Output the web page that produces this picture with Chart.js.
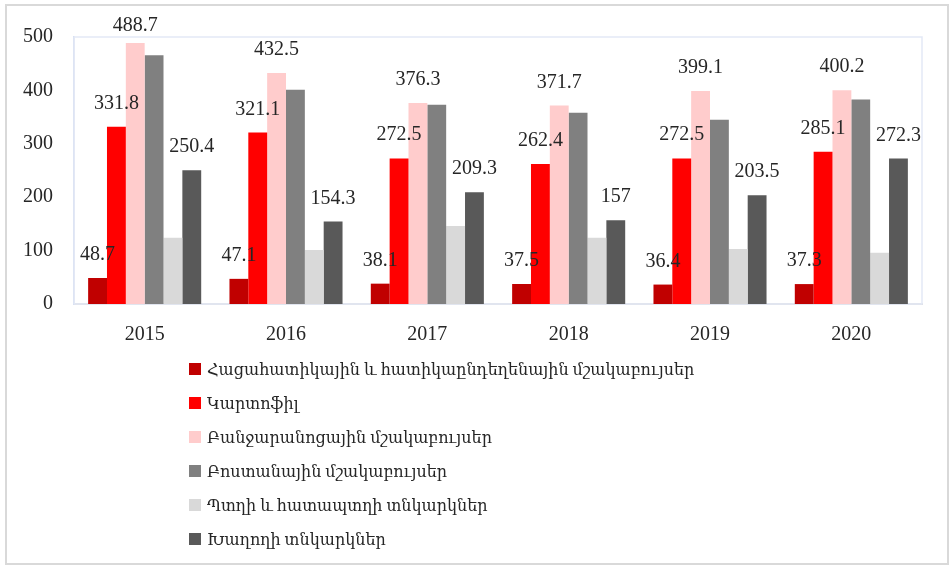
<!DOCTYPE html>
<html><head><meta charset="utf-8">
<script src="https://cdn.jsdelivr.net/npm/chart.js@4"></script>
<style>
html,body{margin:0;padding:0;background:#fff;}
#wrap{position:relative;width:950px;height:567px;overflow:hidden;background:#fff;}
#c{position:absolute;left:0;top:0;}
#frame{position:absolute;left:5px;top:4px;width:944px;height:561px;border:2px solid #d9d9d9;box-sizing:border-box;pointer-events:none;}
#legend{position:absolute;left:189px;top:352px;font-family:"Liberation Serif","DejaVu Serif",serif;font-size:16px;color:#262626;}
.row{height:34px;display:flex;align-items:center;white-space:nowrap;}
.sw{width:12px;height:12px;margin-right:6px;flex:none;}
</style></head>
<body>
<div id="wrap"><canvas id="c" width="950" height="567"></canvas><div id="frame"></div><div id="legend"></div></div>
<script>
const years = ['2015','2016','2017','2018','2019','2020'];
const seriesNames = [
  'Հացահատիկային և հատիկաընդեղենային մշակաբույսեր',
  'Կարտոֆիլ',
  'Բանջարանոցային մշակաբույսեր',
  'Բոստանային մշակաբույսեր',
  'Պտղի և հատապտղի տնկարկներ',
  'Խաղողի տնկարկներ'
];
const grainLegumes = [48.7, 47.1, 38.1, 37.5, 36.4, 37.3];
const potato = [331.8, 321.1, 272.5, 262.4, 272.5, 285.1];
const vegetables = [488.7, 432.5, 376.3, 371.7, 399.1, 400.2];
const melons = [466, 401, 373, 358, 345, 383];
const fruitBerry = [124, 101, 146, 124, 103, 96];
const vineyards = [250.4, 154.3, 209.3, 157, 203.5, 272.3];
const yTicks = [0, 100, 200, 300, 400, 500];
const seriesColors = ['#c00000', '#ff0000', '#ffcccc', '#808080', '#d9d9d9', '#595959'];
const showValues = [true, true, true, false, false, true];

const FONT = '"Liberation Serif","DejaVu Serif",serif';
const allData = [grainLegumes, potato, vegetables, melons, fruitBerry, vineyards];

const datasets = allData.map((d, i) => ({
  label: seriesNames[i],
  data: d,
  backgroundColor: seriesColors[i],
  borderWidth: 0,
  categoryPercentage: 0.8,
  barPercentage: 1.0,
  showValues: showValues[i]
}));

const framePlugin = {
  id: 'plotFrame',
  beforeDatasetsDraw(chart) {
    const a = chart.chartArea, ctx = chart.ctx;
    ctx.save();
    ctx.strokeStyle = '#e3e9f6';
    ctx.lineWidth = 1.5;
    ctx.strokeRect(a.left, a.top, a.right - a.left, a.bottom - a.top);
    ctx.restore();
  }
};

const valuePlugin = {
  id: 'values',
  afterDatasetsDraw(chart) {
    const ctx = chart.ctx;
    ctx.save();
    ctx.font = '20px ' + FONT;
    ctx.fillStyle = '#262626';
    ctx.textAlign = 'center';
    ctx.textBaseline = 'alphabetic';
    chart.data.datasets.forEach((ds, i) => {
      if (!ds.showValues) return;
      chart.getDatasetMeta(i).data.forEach((bar, j) => {
        const y = Math.max(bar.y - 18, 31);
        ctx.fillText(String(ds.data[j]), bar.x, y);
      });
    });
    ctx.restore();
  }
};

const chart = new Chart(document.getElementById('c'), {
  type: 'bar',
  data: { labels: years, datasets },
  options: {
    responsive: false,
    animation: false,
    devicePixelRatio: 1,
    layout: { padding: { top: 37, right: 28, left: 0, bottom: 0 } },
    plugins: { legend: { display: false }, tooltip: { enabled: false } },
    scales: {
      x: {
        grid: { display: false, drawTicks: false },
        border: { display: true, color: '#d9d9d9', width: 2 },
        ticks: { color: '#262626', font: { family: FONT, size: 20 }, padding: 19 },
        afterFit(s) { s.height = 263; }
      },
      y: {
        min: 0, max: 500,
        afterBuildTicks(s) { s.ticks = yTicks.map(v => ({ value: v })); },
        grid: { display: false, drawTicks: false },
        border: { display: true, color: '#c8d5ee', width: 1.5 },
        ticks: { color: '#262626', font: { family: FONT, size: 20 }, padding: 21 },
        afterFit(s) { s.width = 74; }
      }
    }
  },
  plugins: [framePlugin, valuePlugin]
});

const lg = document.getElementById('legend');
chart.data.datasets.forEach(ds => {
  const row = document.createElement('div');
  row.className = 'row';
  const sw = document.createElement('span');
  sw.className = 'sw';
  sw.style.background = ds.backgroundColor;
  const tx = document.createElement('span');
  tx.textContent = ds.label;
  row.appendChild(sw); row.appendChild(tx);
  lg.appendChild(row);
});
</script>
</body></html>
